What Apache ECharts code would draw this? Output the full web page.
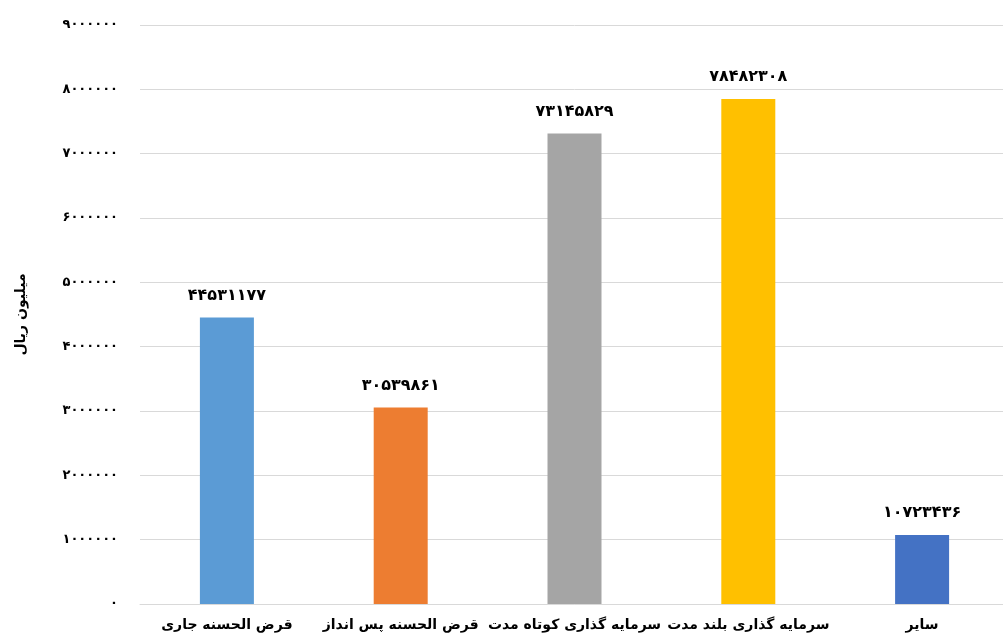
<!DOCTYPE html>
<html>
<head>
<meta charset="utf-8">
<script src="https://cdn.jsdelivr.net/npm/echarts@6/dist/echarts.min.js"></script>
<style>html,body{margin:0;padding:0;background:#fff;overflow:hidden}#c{width:1009px;height:641px}</style>
</head>
<body>
<div id="c"></div>
<script>
var categories = ['قرض الحسنه جاری', 'قرض الحسنه پس انداز', 'سرمایه گذاری کوتاه مدت', 'سرمایه گذاری بلند مدت', 'سایر'];
var values = [44531177, 30539861, 73145829, 78482308, 10723436];
var colors = ['#5B9BD5', '#ED7D31', '#A5A5A5', '#FFC000', '#4472C4'];
var tickLabels = ['0', '1000000', '2000000', '3000000', '4000000', '5000000', '6000000', '7000000', '8000000', '9000000'];
var axisName = 'میلیون ریال';

function fa(s) {
  return String(s).replace(/[0-9]/g, function (d) { return '۰۱۲۳۴۵۶۷۸۹'[+d]; });
}

var chart = echarts.init(document.getElementById('c'));
chart.setOption({
  animation: false,
  textStyle: { fontFamily: 'DejaVu Sans' },
  grid: { left: 140, top: 25, right: 0, bottom: 37, containLabel: false },
  xAxis: {
    type: 'category',
    data: categories,
    axisLine: { lineStyle: { color: '#d9d9d9' } },
    axisTick: { show: false },
    axisLabel: { interval: 0, color: '#000', fontWeight: 'bold', fontSize: 14, margin: 14, fontFamily: 'DejaVu Sans' }
  },
  yAxis: {
    type: 'value',
    min: 0,
    max: 90000000,
    interval: 10000000,
    name: axisName,
    nameLocation: 'middle',
    nameGap: 112,
    nameTextStyle: { color: '#000', fontWeight: 'bold', fontSize: 14, fontFamily: 'DejaVu Sans' },
    axisLine: { show: false },
    axisTick: { show: false },
    splitLine: { lineStyle: { color: '#d9d9d9' } },
    axisLabel: {
      color: '#000', fontWeight: 'bold', fontSize: 13, margin: 22,
      formatter: function (v) { return fa(tickLabels[Math.round(v / 10000000)]); }
    }
  },
  series: [{
    type: 'bar',
    barWidth: 54,
    data: values.map(function (v, i) { return { value: v, itemStyle: { color: colors[i] } }; }),
    label: {
      show: true, position: 'top', distance: 14,
      color: '#000', fontWeight: 'bold', fontSize: 16, fontFamily: 'DejaVu Sans',
      formatter: function (p) { return fa(p.value); }
    }
  }]
});
</script>
</body>
</html>
